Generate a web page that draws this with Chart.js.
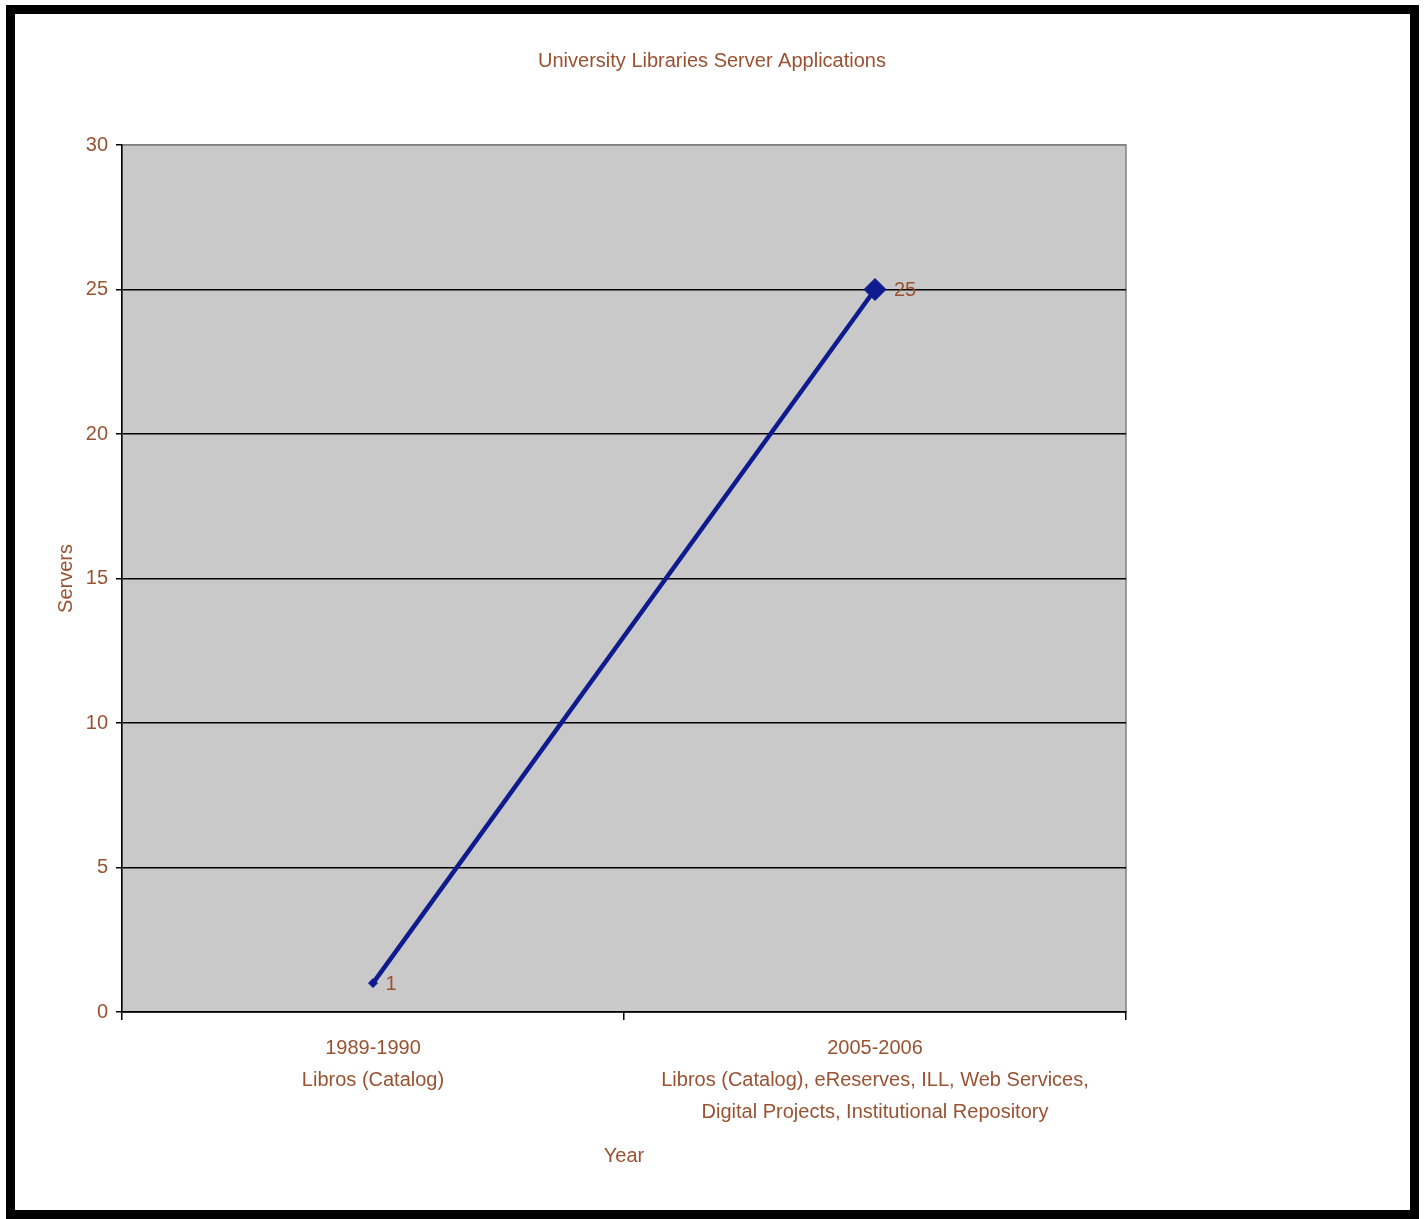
<!DOCTYPE html>
<html>
<head>
<meta charset="utf-8">
<title>University Libraries Server Applications</title>
<script src="https://cdn.jsdelivr.net/npm/chart.js@4/dist/chart.umd.min.js"></script>
<style>
  html, body { margin: 0; padding: 0; background: #fff; }
  #wrap { position: relative; width: 1426px; height: 1219px; overflow: hidden; }
  #chart { position: absolute; left: 0; top: 0; }
  #frame {
    position: absolute; left: 6px; top: 5px; width: 1413px; height: 1214px;
    box-sizing: border-box; border: 9px solid #000; pointer-events: none;
  }
</style>
</head>
<body>
<div id="wrap">
  <canvas id="chart" width="1426" height="1219"></canvas>
  <div id="frame"></div>
</div>
<script>
// Данные графика
const chartTitle = 'University Libraries Server Applications';
const categories = [
    ['1989-1990', 'Libros (Catalog)'],
    ['2005-2006', 'Libros (Catalog), eReserves, ILL, Web Services,', 'Digital Projects, Institutional Repository']
];
const servers = [1, 25];
const yTicks = [0, 5, 10, 15, 20, 25, 30];

const textColor = '#9a5232';
const lineColor = '#0d1b8e';
const fontFamily = "'Liberation Sans', Arial, sans-serif";

// Серый фон области построения и рамка
const plotBackground = {
    id: 'plotBackground',
    beforeDraw(chart) {
        const { ctx, chartArea: a } = chart;
        ctx.save();
        ctx.fillStyle = '#c9c9c9';
        ctx.fillRect(a.left, a.top, a.right - a.left, a.bottom - a.top);
        ctx.strokeStyle = '#808080';
        ctx.lineWidth = 1.5;
        ctx.strokeRect(a.left, a.top, a.right - a.left, a.bottom - a.top);
        ctx.restore();
    }
};

// Заголовок по центру всего полотна
const centerTitle = {
    id: 'centerTitle',
    afterDraw(chart) {
        const ctx = chart.ctx;
        ctx.save();
        ctx.fillStyle = textColor;
        ctx.font = `20px ${fontFamily}`;
        ctx.textAlign = 'center';
        ctx.textBaseline = 'middle';
        ctx.fillText(chartTitle, 712, 61);
        ctx.restore();
    }
};

// Подписи значений справа от точек
const valueLabels = {
    id: 'valueLabels',
    afterDatasetsDraw(chart) {
        const ctx = chart.ctx;
        const meta = chart.getDatasetMeta(0);
        ctx.save();
        ctx.fillStyle = textColor;
        ctx.font = `20px ${fontFamily}`;
        ctx.textAlign = 'left';
        ctx.textBaseline = 'middle';
        meta.data.forEach((pt, i) => {
            ctx.fillText(String(servers[i]), pt.x + pt.options.radius + 8, pt.y + 1);
        });
        ctx.restore();
    }
};

const ctx = document.getElementById('chart').getContext('2d');
new Chart(ctx, {
    type: 'line',
    data: {
        labels: categories,
        datasets: [{
            label: 'Servers',
            data: servers,
            borderColor: lineColor,
            backgroundColor: lineColor,
            borderWidth: 4.5,
            pointStyle: 'rectRot',
            pointRadius: c => c.dataIndex === 0 ? 4.5 : 11,
            pointBorderWidth: 1,
            tension: 0,
            fill: false
        }]
    },
    options: {
        responsive: false,
        animation: false,
        devicePixelRatio: 1,
        layout: {
            padding: { left: 44, right: 300, top: 145, bottom: 53 }
        },
        plugins: {
            legend: { display: false },
            title: { display: false },
            tooltip: { enabled: false }
        },
        scales: {
            x: {
                offset: true,
                grid: {
                    offset: true,
                    drawOnChartArea: false,
                    tickLength: 8,
                    tickColor: '#000',
                    lineWidth: 1.5
                },
                border: { color: '#000', width: 1.5 },
                ticks: {
                    color: textColor,
                    font: { family: fontFamily, size: 20, lineHeight: 1.6 },
                    padding: 12,
                    maxRotation: 0,
                    autoSkip: false
                },
                title: {
                    display: true,
                    text: 'Year',
                    color: textColor,
                    font: { family: fontFamily, size: 20, lineHeight: 1 },
                    padding: { top: 6, bottom: 0 }
                }
            },
            y: {
                min: 0,
                max: 30,
                afterBuildTicks: s => { s.ticks = yTicks.map(v => ({ value: v })); },
                afterFit: s => { s.width = 78; },
                grid: {
                    color: c => (c.tick && c.tick.value === 30) ? '#808080' : '#000',
                    lineWidth: 1.5,
                    tickLength: 6,
                    tickColor: '#000'
                },
                border: { color: '#000', width: 1.5 },
                ticks: {
                    color: textColor,
                    font: { family: fontFamily, size: 20 },
                    padding: 8
                },
                title: {
                    display: true,
                    text: 'Servers',
                    color: textColor,
                    font: { family: fontFamily, size: 20 },
                    padding: { top: 10, bottom: 0 }
                }
            }
        }
    },
    plugins: [plotBackground, valueLabels, centerTitle]
});
</script>
</body>
</html>
